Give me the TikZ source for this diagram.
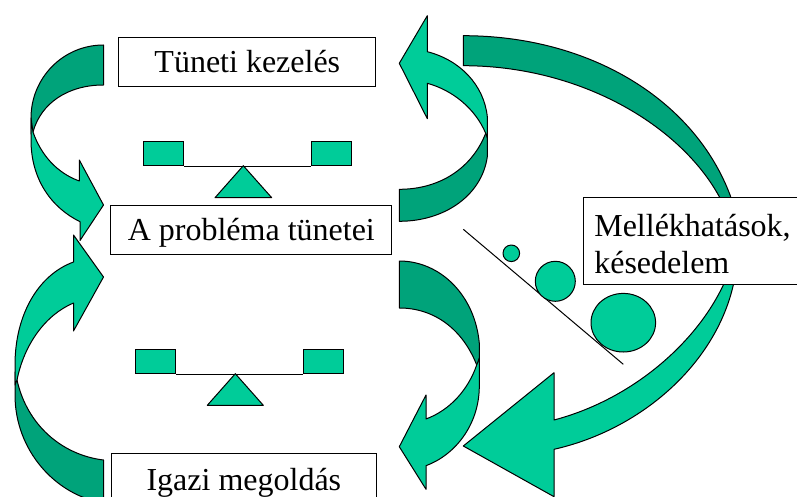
\documentclass[tikz,border=0pt]{standalone}
\usepackage{fontspec}
\setmainfont{Liberation Serif}
\definecolor{vilagos}{HTML}{00CC99}
\definecolor{sotet}{HTML}{00A37A}
\tikzset{
    doboz/.style = {draw=black, fill=white, line width=1pt, inner sep=0pt, font=\fontsize{32}{37}\selectfont},
    serpenyo/.style = {draw=black, fill=vilagos, line width=1pt, inner sep=0pt, minimum width=40.4pt, minimum height=24pt},
    vilagosnyil/.style = {draw=black, fill=vilagos, line width=1pt, line join=round},
    sotetnyil/.style = {draw=black, fill=sotet, line width=1pt, line join=round}
}
\begin{document}
\begin{tikzpicture}[x=1pt,y=-1pt]
    \clip (0,0) rectangle (797,497);
    \fill[white] (0,0) rectangle (797,497);

    % felso bal nyil
    \draw[sotetnyil] (103.5,45) .. controls (63,45) and (31,78) .. (31,118) -- (31,134) -- (33,132) .. controls (41,103) and (68,85) .. (103.5,85) -- cycle;
    \draw[vilagosnyil] (31,118) -- (31,140) .. controls (31,180) and (52,208) .. (80,221.7) -- (80,240.5) -- (103.5,205) -- (79.3,160) -- (79.3,181) .. controls (57,173) and (41,155) .. (33,132) -- cycle;

    % also bal nyil
    \draw[sotetnyil] (103.5,460) .. controls (62,455) and (27,425) .. (17,380) -- (15,372) -- (15,395) .. controls (15,450) and (55,495) .. (103.5,503) -- cycle;
    \draw[vilagosnyil] (73.5,262) .. controls (38,275) and (15,315) .. (15,365) -- (15,385) -- (17,380) .. controls (24,345) and (45,315) .. (73.5,303) -- (73.5,331) -- (103.5,277) -- (73.5,235) -- cycle;

    % felso jobb nyil
    \draw[sotetnyil] (399.3,189.3) .. controls (440,189.3) and (472,168) .. (485.7,133.3) -- (487.3,125) -- (487.3,156.7) .. controls (482,195) and (445,221.3) .. (399.3,221.3) -- cycle;
    \draw[vilagosnyil] (427.3,51.7) .. controls (460,60) and (484,85) .. (487.3,116.7) -- (487.3,138) -- (485.7,133.3) .. controls (475,108) and (452,90) .. (427.3,83.3) -- (427.3,118.7) -- (399.3,63.3) -- (427.3,15.7) -- cycle;

    % also jobb nyil
    \draw[sotetnyil] (399.3,261) .. controls (440,261) and (475,295) .. (479.3,343.3) -- (479.3,372) -- (476.7,365) .. controls (463,330) and (435,308) .. (399.3,308) -- cycle;
    \draw[vilagosnyil] (476.7,365) -- (479.3,358) -- (479.3,386.7) .. controls (479,425) and (455,455) .. (426,465.7) -- (426,489.3) -- (399.3,446.7) -- (426,395) -- (426,419) .. controls (450,410) and (468,390) .. (476.7,365) -- cycle;

    % nagy nyil
    \draw[sotetnyil] (463.3,35.7) .. controls (590,35.7) and (695,100) .. (730.7,196.7) -- (733,240) -- (722,240) -- (719.3,196.7) .. controls (680,125) and (580,65.7) .. (463.3,65.7) -- cycle;
    \draw[vilagosnyil] (733,240) -- (733.3,285) .. controls (715,365) and (640,430) .. (554,449.3) -- (554,496.7) -- (463.3,446) -- (554,372.7) -- (554,420) .. controls (630,400) and (695,345) .. (723.3,285) -- (722,240) -- cycle;

    % dobozok
    \node[doboz, minimum width=256.7pt, minimum height=49.4pt, text height=24pt, text depth=3pt] (tuneti) at (247.3,62) {T\"uneti kezel\'es};
    \node[doboz, minimum width=280.7pt, minimum height=49.3pt, text height=24pt, text depth=3pt] (problema) at (251.3,230.3) {A probl\'ema t\"unetei};
    \node[doboz, minimum width=264.7pt, minimum height=62pt, anchor=north west, text height=37pt, text depth=25pt] (megoldas) at (111,453) {Igazi megold\'as};
    \node[doboz, anchor=north west, minimum width=220pt, minimum height=87pt, text width=199pt, inner xsep=10pt, align=left] (mellek) at (583.3,197.3) {\rule{0pt}{27pt}Mell\'ekhat\'asok,\\k\'esedelem};

    % merlegek
    \node[serpenyo] (bal1) at (163.5,153.7) {};
    \node[serpenyo] (jobb1) at (331.5,153.7) {};
    \draw[line width=1pt] (bal1.south east) -- (jobb1.south west);
    \draw[vilagosnyil] (243.3,165.7) -- (271.7,197.7) -- (215,197.7) -- cycle;

    \node[serpenyo] (bal2) at (155.5,361.5) {};
    \node[serpenyo] (jobb2) at (323.5,361.5) {};
    \draw[line width=1pt] (bal2.south east) -- (jobb2.south west);
    \draw[vilagosnyil] (235.3,373.7) -- (263.3,405.3) -- (207.3,405.3) -- cycle;

    % lejto
    \draw[line width=1pt] (463.3,229.3) -- (623.3,364.3);
    \draw[vilagosnyil] (511.3,253.3) circle (8.3pt);
    \draw[vilagosnyil] (555.3,281.3) circle (20pt);
    \draw[vilagosnyil] (623.3,322.7) ellipse (32.3pt and 29.3pt);
\end{tikzpicture}
\end{document}
